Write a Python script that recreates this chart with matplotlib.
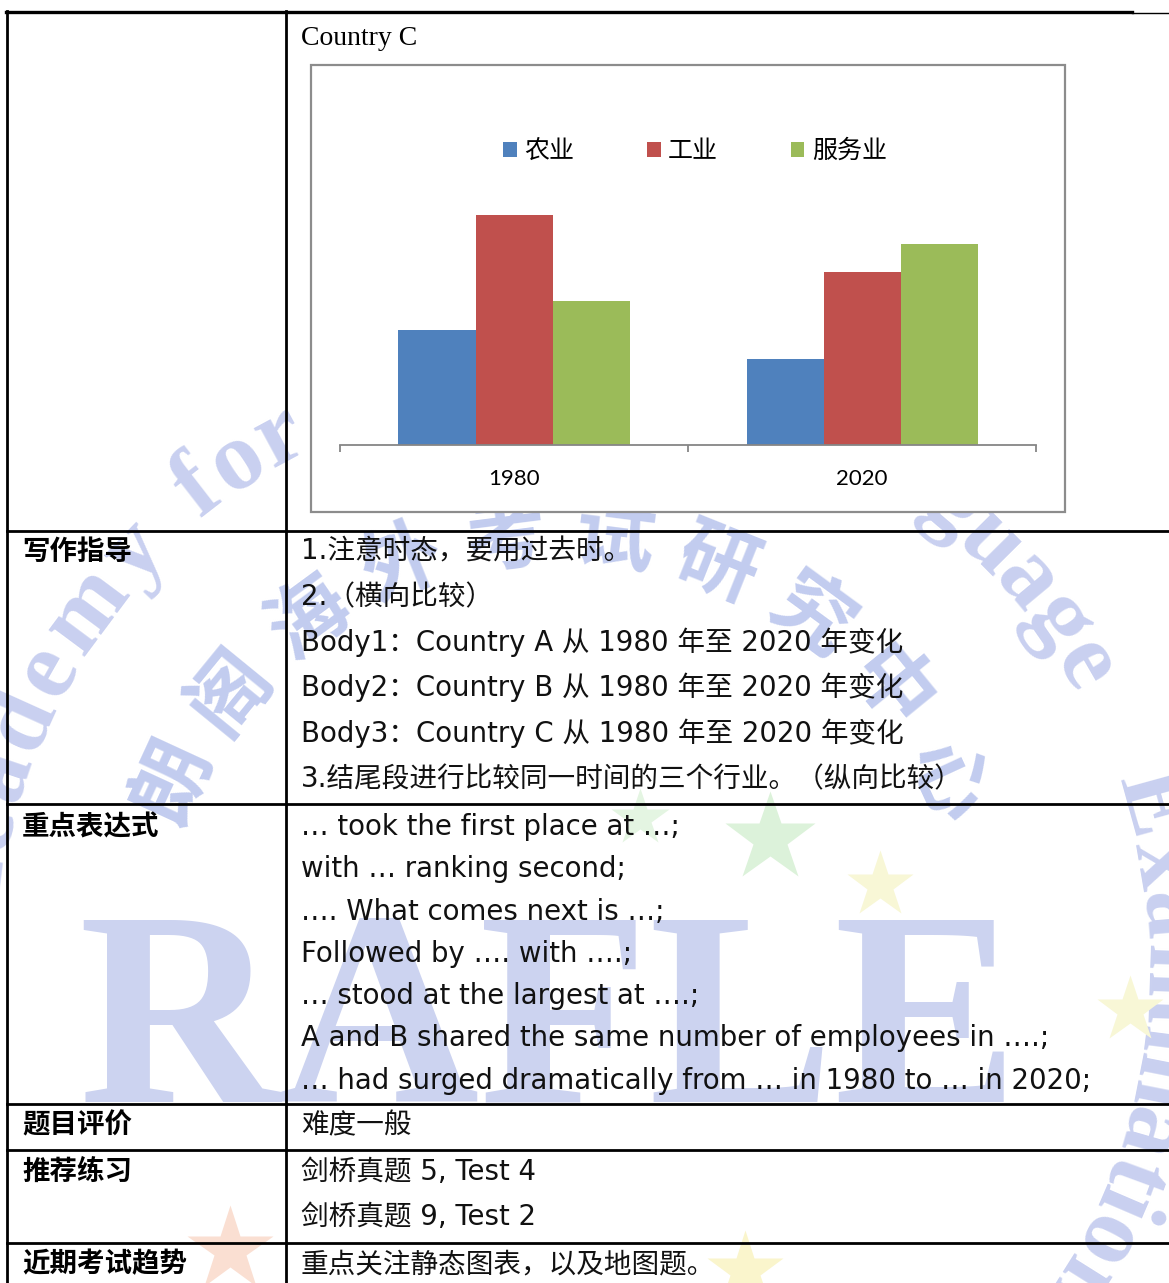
import numpy as np
import matplotlib
matplotlib.use("Agg")
import matplotlib.pyplot as plt
from matplotlib.patches import Rectangle
from matplotlib.font_manager import FontProperties

# chart data (Country C, employees by sector)
years = ["1980", "2020"]
sectors = ["农业", "工业", "服务业"]
agriculture = [20, 15]
industry = [40, 30]
services = [25, 35]
bar_colors = ["#4F81BD", "#C0504D", "#9BBB59"]

# table content
row_heads = ["写作指导", "重点表达式", "题目评价", "推荐练习", "近期考试趋势"]
guide_lines = [
    "1.注意时态，要用过去时。",
    "2.（横向比较）",
    "Body1：Country A 从 1980 年至 2020 年变化",
    "Body2：Country B 从 1980 年至 2020 年变化",
    "Body3：Country C 从 1980 年至 2020 年变化",
    "3.结尾段进行比较同一时间的三个行业。（纵向比较）",
]
phrase_lines = [
    "… took the first place at …;",
    "with … ranking second;",
    "…. What comes next is …;",
    "Followed by …. with ….;",
    "… stood at the largest at ….;",
    "A and B shared the same number of employees in ….;",
    "… had surged dramatically from … in 1980 to … in 2020;",
]
rating_lines = ["难度一般"]
practice_lines = ["剑桥真题 5, Test 4", "剑桥真题 9, Test 2"]
trend_lines = ["重点关注静态图表，以及地图题。"]

W, H = 1169, 1283
MIX = ["DejaVu Sans", "Noto Sans CJK SC"]
WM = "#c9d0f0"


def px_box(x0, y0, x1, y1):
    return [x0 / W, 1 - y1 / H, (x1 - x0) / W, (y1 - y0) / H]


def arc_text(ax, text, cx, cy, r, theta_c, step, **kw):
    widths = {"i": 0.55, "l": 0.55, "t": 0.65, "f": 0.65, "r": 0.7, "m": 1.6,
              "A": 1.35, "E": 1.3, "L": 1.2, "c": 0.9, "e": 0.9}
    ws = [widths.get(ch, 1.0) for ch in text]
    total = sum(ws)
    th = theta_c - step * total / 2
    for ch, w in zip(text, ws):
        t = th + step * w / 2
        x = cx + r * np.cos(np.radians(t))
        y = cy + r * np.sin(np.radians(t))
        ax.text(x, y, ch, rotation=-t - 90, rotation_mode="anchor",
                ha="center", va="center", zorder=0, **kw)
        th += step * w


fig = plt.figure(figsize=(W / 100, H / 100), dpi=100)
bg = fig.add_axes([0, 0, 1, 1])
bg.set_xlim(0, W)
bg.set_ylim(H, 0)
bg.axis("off")

# watermark
bg.text(78, 1102, "RAFLE", family="Liberation Serif", weight="bold",
        fontsize=200, color="#ccd3f0", va="baseline", ha="left", zorder=0)
serif_wm = dict(family="Liberation Serif", weight="bold", fontsize=70, color=WM)
arc_text(bg, "Academy", 565, 965, 595, -155, 5.6, **serif_wm)
arc_text(bg, "for", 565, 965, 600, -123, 5.6, **serif_wm)
arc_text(bg, "Language", 565, 965, 600, -48, 5.0, **serif_wm)
arc_text(bg, "Examination", 565, 965, 605, 8, 5.0, **serif_wm)
arc_text(bg, "朗阁海外考试研究中心", 560, 960, 425, -90, 14.5,
         family="Noto Sans CJK SC", weight="bold", fontsize=58, color="#c2ccef")
for sx, sy, ss, sc in [(770, 838, 95, "#dcf2da"), (640, 818, 60, "#e4f5e2"),
                       (880, 885, 70, "#f8f7d6"), (1130, 1010, 70, "#f8f7d6"),
                       (230, 1250, 90, "#fadfd2"), (745, 1270, 80, "#faf5cc")]:
    bg.plot(sx, sy, marker="*", ms=ss * 0.72, color=sc, mec="none", zorder=0)

# table grid
lw = 2.0
bg.plot([6, 1132], [12, 12], color="black", lw=2.4, zorder=3)
bg.plot([1132, W], [13, 13], color="black", lw=1.0, zorder=3)
bg.plot([7, 7], [11, H], color="black", lw=lw, zorder=3)
bg.plot([286, 286], [11, H], color="black", lw=lw, zorder=3)
for yl in [531, 804, 1104, 1150, 1243]:
    bg.plot([7, W], [yl, yl], color="black", lw=lw, zorder=3)

# left column headers
for head, yb in zip(row_heads, [560, 835, 1133, 1180, 1272]):
    bg.text(22, yb, head, family="Noto Sans CJK SC", weight="bold",
            fontsize=19.8, va="baseline", ha="left", zorder=4)

# right column text
bg.text(301, 45, "Country C", family="Liberation Serif", fontsize=20,
        va="baseline", ha="left", zorder=4)
blocks = [
    (guide_lines, 560, 45.4),
    (phrase_lines, 835, 42.3),
    (rating_lines, 1133, 0),
    (practice_lines, 1180, 45),
    (trend_lines, 1272, 0),
]
for lines, y0, dy in blocks:
    for i, line in enumerate(lines):
        bg.text(301, y0 + i * dy, line, family=MIX, fontsize=19.9,
                va="baseline", ha="left", color="#111111", zorder=4)

# chart frame
bg.add_patch(Rectangle((311, 65), 754, 447, facecolor="white",
                       edgecolor="#8c8c8c", lw=1.6, zorder=2))

# bar chart
ax = fig.add_axes(px_box(340, 186, 1036, 445))
ax.patch.set_alpha(0)
x = np.arange(len(years))
w = 77 / 348
series = [agriculture, industry, services]
handles = []
for i, (vals, col, name) in enumerate(zip(series, bar_colors, sectors)):
    b = ax.bar(x + (i - 1) * w, vals, width=w, color=col, label=name,
               edgecolor="none")
    handles.append(b)
ax.set_xlim(-0.5, 1.5)
ax.set_ylim(0, 45)
for s in ["top", "right", "left"]:
    ax.spines[s].set_visible(False)
ax.spines["bottom"].set_color("#868686")
ax.spines["bottom"].set_linewidth(1.3)
ax.set_yticks([])
ax.set_xticks(x)
ax.set_xticklabels(years, family="Lato", fontsize=16)
ax.set_xticks([-0.5, 0.5, 1.5], minor=True)
ax.tick_params(axis="x", which="major", length=0, pad=17)
ax.tick_params(axis="x", which="minor", length=5, width=1.3, color="#868686")

ax.legend(handles=handles, loc="center",
          bbox_to_anchor=(695 / W, 1 - 151 / H), bbox_transform=fig.transFigure,
          ncol=3, frameon=False, handlelength=0.55, handleheight=0.55,
          handletextpad=0.3, columnspacing=2.9,
          prop=FontProperties(family="Noto Sans CJK SC", size=18))

fig.savefig("out.png", dpi=100)
